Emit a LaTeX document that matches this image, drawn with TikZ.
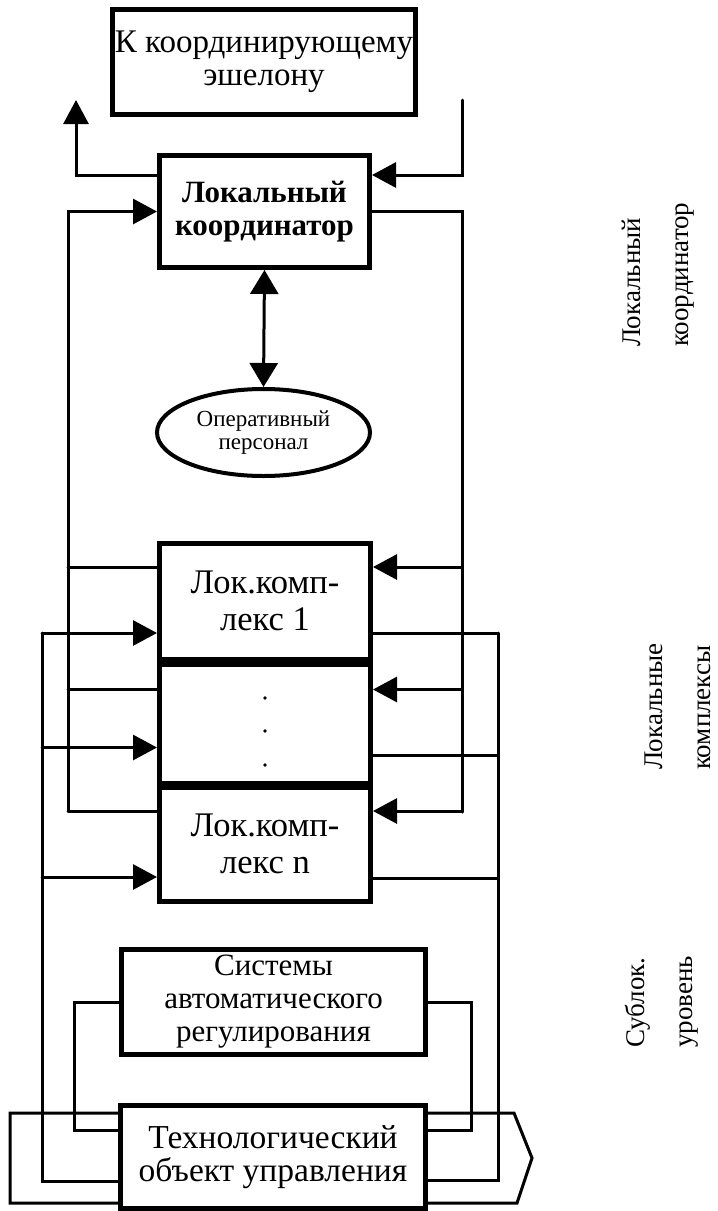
\documentclass[tikz,border=0pt]{standalone}
\usepackage{fontspec}
\setmainfont{Liberation Serif}
\usetikzlibrary{arrows.meta,shapes.geometric}
\begin{document}
\begin{tikzpicture}[x=1pt,y=-1pt,line cap=round,
    blk/.style={draw,line width=5pt,fill=white,align=center,inner sep=0pt,font=\fontsize{31}{33}\selectfont},
    wire/.style={line width=3pt},
    tip/.style={-{Triangle[length=24pt,width=25pt]}},
    side/.style={rotate=90,align=left,anchor=north west,inner sep=0pt,font=\fontsize{27}{48}\selectfont}]
    \useasboundingbox (0,0) rectangle (718,1211);
    \draw[line width=3pt,line join=miter] (10,1113) -- (514,1113) -- (532,1158) -- (517,1203) -- (10,1203) -- cycle;
    \node[blk,minimum width=303pt,minimum height=105pt,font=\fontsize{33}{33}\selectfont] (ech) at (264,62) {К координирующему\\эшелону};
    \node[blk,minimum width=210pt,minimum height=112pt,font=\bfseries\fontsize{31}{33}\selectfont] (lk) at (264.5,211.5) {Локальный\\координатор};
    \node[draw,ellipse,line width=4pt,fill=white,minimum width=213pt,minimum height=87pt,inner sep=0pt,align=center,font=\fontsize{23}{23}\selectfont] (op) at (263.5,432.5) {Оперативный\\персонал};
    \node[blk,minimum width=211pt,minimum height=115.5pt,font=\fontsize{34.5}{37}\selectfont] (k1) at (265,601.25) {Лок.комп-\\лекс 1};
    \node[blk,minimum width=211pt,minimum height=119pt] (k2) at (265,723.5) {};
    \node[blk,minimum width=211pt,minimum height=113.5pt,font=\fontsize{34.5}{37}\selectfont] (kn) at (265,844.25) {Лок.комп-\\лекс n};
    \node[blk,minimum width=304pt,minimum height=105pt] (sar) at (273.5,1002) {Системы\\автоматического\\регулирования};
    \node[blk,minimum width=305pt,minimum height=103pt,font=\fontsize{33.5}{33}\selectfont] (tou) at (273,1157) {Технологический\\объект управления};
    \foreach \s in {25.5,-7.5,-41.5} \fill ([yshift=\s pt]k2.center) circle (1.8pt);
    \node[side] (s1) at (622,347) {Локальный\\координатор};
    \node[side] (s2) at (645,770) {Локальные\\комплексы};
    \node[side] (s3) at (625,1048) {Сублок.\\уровень};
    \coordinate (up) at (76,100);
    \coordinate (dn) at (462,100);
    \coordinate (lbus) at (68,811);
    \coordinate (rbus) at (462,812);
    \coordinate (ibus) at (42,633);
    \coordinate (obus) at (498,633);
    \coordinate (sl) at (74,0);
    \coordinate (sr) at (471,0);
    \coordinate (t1) at ([yshift=-27pt]tou.north west);
    \coordinate (t2) at ([yshift=-27pt]tou.north east);
    \draw[wire,tip] ([yshift=-22pt]lk.north west) -| (up);
    \draw[wire,tip] (dn) |- ([yshift=-22pt]lk.north east);
    \draw[wire,{Triangle[length=24pt,width=28pt]}-{Triangle[length=24pt,width=28pt]}] (lk.south) -- (op.north);
    \draw[wire,tip] (lbus) |- (lk.west);
    \draw[wire] (lk.east) -| (rbus);
    \draw[wire] (ibus) |- ([yshift=-78pt]tou.north west);
    \draw[wire] (obus) |- ([yshift=-77pt]tou.north east);
    \foreach \k/\da/\db/\dc in {k1/26/92/92,k2/28/86/94,kn/26/92/93}{
      \draw[wire] ([yshift=-\da pt]\k.north west) coordinate (a) -- (a -| lbus);
      \draw[wire,tip] (a -| rbus) -- ([yshift=-\da pt]\k.north east);
      \draw[wire,tip] ([yshift=-\db pt]\k.north west -| ibus) -- ([yshift=-\db pt]\k.north west);
      \draw[wire] ([yshift=-\dc pt]\k.north east) coordinate (c) -- (c -| obus);
    }
    \draw[wire] (sar.west) -| (t1 -| sl) -- (t1);
    \draw[wire] (sar.east) -| (t2 -| sr) -- (t2);
\end{tikzpicture}
\end{document}
